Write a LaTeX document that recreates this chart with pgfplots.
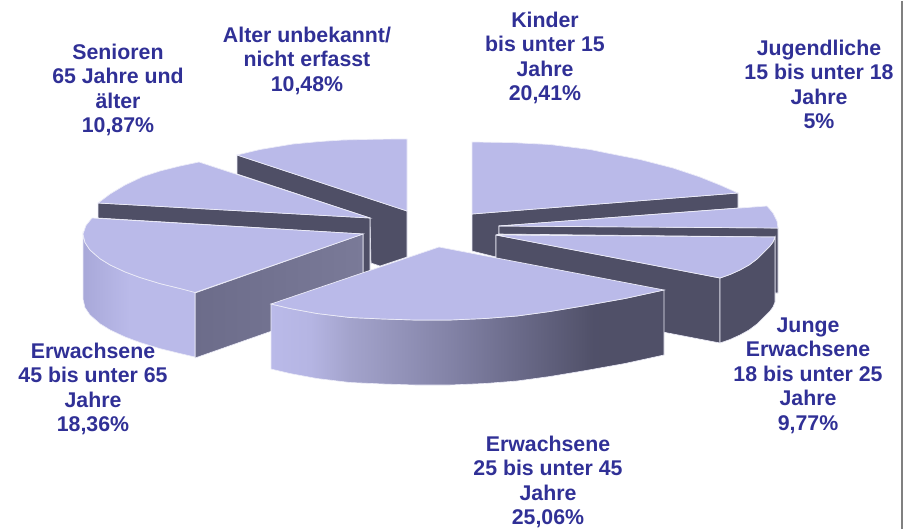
\documentclass[border=0pt]{standalone}
\usepackage{pgfplots}
\usepackage{fontspec}
\setmainfont{Liberation Sans}
\pgfplotsset{compat=1.18}
\definecolor{topc}{RGB}{186,186,233}
\definecolor{darkc}{RGB}{79,79,102}
\definecolor{edgec}{RGB}{236,236,248}
\definecolor{txt}{RGB}{48,48,150}
\pgfdeclarehorizontalshading{wallA}{100bp}{rgb(0bp)=(0.729,0.729,0.914);rgb(25bp)=(0.729,0.729,0.914);rgb(30bp)=(0.710,0.710,0.890);rgb(35bp)=(0.640,0.640,0.800);rgb(48bp)=(0.510,0.510,0.650);rgb(57bp)=(0.410,0.410,0.530);rgb(66bp)=(0.315,0.315,0.410);rgb(100bp)=(0.310,0.310,0.400)}
\pgfdeclarehorizontalshading{wallB}{100bp}{rgb(0bp)=(0.660,0.660,0.850);rgb(25bp)=(0.660,0.660,0.850);rgb(46bp)=(0.729,0.729,0.914);rgb(100bp)=(0.729,0.729,0.914)}
\pgfplotsset{
  top/.style={fill=topc,draw=edgec,line width=0.7pt},
  wall/.style={fill=darkc,draw=edgec,line width=0.6pt},
}
\tikzset{lab/.style={anchor=north,align=center,inner sep=0pt,text=txt,font=\fontsize{21.3}{24.5}\selectfont\bfseries}}
\begin{document}
\begin{tikzpicture}
\begin{axis}[x=1pt,y=1pt,xmin=0,xmax=916,ymin=0,ymax=528,y dir=reverse,hide axis,clip=false]
% Page extent
\addplot[draw=none] coordinates {(0,0) (916,0) (916,528) (0,528)} -- cycle;
% Frame line at the right
\addplot[draw=gray,line width=2pt] coordinates {(902,0) (902,528)};
% Alter unbekannt
\addplot[wall] coordinates {(237,154) (407,210) (407,256) (380,265) (371,262) (370,217) (237,173)} -- cycle;
\addplot[top] coordinates {(407,210) (237,154) (260,148.5) (293,143) (320,140.5) (343,139) (375,138.2) (407,138)} -- cycle;
% Senioren
\addplot[wall] coordinates {(98,202) (370,217) (370,270) (363,272) (363,233) (98,217)} -- cycle;
\addplot[top] coordinates {(370,217) (199,161) (180,165) (160,170) (143,175.5) (125,184) (110,193) (98,202)} -- cycle;
% Kinder
\addplot[wall] coordinates {(472,213) (738,192) (738,207) (499,225) (499,233) (496,234) (496,256) (472,250)} -- cycle;
\addplot[top] coordinates {(472,213) (472,141) (510,141.5) (550,143.5) (590,148.5) (607,152) (640,158.5) (673,167) (700,176) (720,184) (738,192)} -- cycle;
% Jugendliche
\addplot[wall] coordinates {(499,225) (778,227) (778,292) (775,292) (775,236) (499,233)} -- cycle;
\addplot[top] coordinates {(499,225) (767,205) (773,212) (777,220) (778,227)} -- cycle;
% Junge Erwachsene
\addplot[wall] coordinates {(496,234) (720,277) (720,342) (496,299)} -- cycle;
\addplot[wall] coordinates {(720,277) (730,273.5) (740,269) (749,264) (757,258) (764,251) (770,245) (773,241) (775,236) (775,301) (773,306) (770,310) (764,316) (757,323) (749,329) (740,334) (730,338.5) (720,342)} -- cycle;
\addplot[top] coordinates {(496,234) (775,236) (773,241) (770,245) (764,251) (757,258) (749,264) (740,269) (730,273.5) (720,277)} -- cycle;
% Erwachsene 45-65
\addplot[left color={rgb,255:red,108;green,108;blue,138},right color={rgb,255:red,122;green,122;blue,152},draw=edgec,line width=0.6pt] coordinates {(195,292) (363,233) (363,298) (195,357)} -- cycle;
\addplot[shading=wallB,draw=edgec,line width=0.6pt] coordinates {(83,233) (85,241.6) (90,249) (100,257.7) (110,263.9) (125,270.9) (140,276.5) (160,282.6) (180,287.5) (195,291) (195,356) (180,352.5) (160,347.6) (140,341.5) (125,335.9) (110,328.9) (100,322.7) (90,314) (85,306.6) (83,298)} -- cycle;
\addplot[top] coordinates {(363,233) (92,217) (86,224.4) (83,233) (85,241.6) (90,249) (100,257.7) (110,263.9) (125,270.9) (140,276.5) (160,282.6) (180,287.5) (195,291.5)} -- cycle;
% Erwachsene 25-45
\addplot[shading=wallA,draw=edgec,line width=0.6pt] coordinates {(271,303) (290,307.5) (317,312.5) (350,316.5) (383,318) (415,319) (450,319) (485,317.5) (517,315) (550,310.5) (583,305) (625,297.5) (664,289) (664,354) (625,362.5) (583,370) (550,375.5) (517,380) (485,382.5) (450,384) (415,384) (383,383) (350,381.5) (317,377.5) (290,372.5) (271,368)} -- cycle;
\addplot[top] coordinates {(439,246) (271,303) (290,307.5) (317,312.5) (350,316.5) (383,318) (415,319) (450,319) (485,317.5) (517,315) (550,310.5) (583,305) (625,297.5) (664,289)} -- cycle;
% Labels
\node[lab] at (axis cs:545,8.9) {\strut Kinder\\bis unter 15\\Jahre\\20,41\%};
\node[lab] at (axis cs:819,36.9) {\strut Jugendliche\\15 bis unter 18\\Jahre\\5\%};
\node[lab] at (axis cs:307,23.9) {\strut Alter unbekannt/\\nicht erfasst\\10,48\%};
\node[lab] at (axis cs:118,40.9) {\strut Senioren\\65 Jahre und\\älter\\10,87\%};
\node[lab] at (axis cs:93,339.9) {\strut Erwachsene\\45 bis unter 65\\Jahre\\18,36\%};
\node[lab] at (axis cs:548,432.9) {\strut Erwachsene\\25 bis unter 45\\Jahre\\25,06\%};
\node[lab] at (axis cs:808,313.9) {\strut Junge\\Erwachsene\\18 bis unter 25\\Jahre\\9,77\%};
\end{axis}
\end{tikzpicture}
\end{document}
